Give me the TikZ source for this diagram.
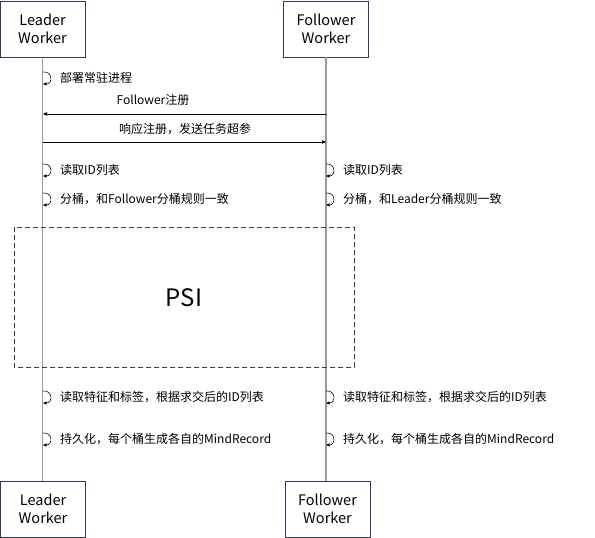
\documentclass[tikz,border=0pt]{standalone}
\usepackage{fontspec}
\setmainfont{Noto Sans CJK SC}
\usetikzlibrary{arrows.meta}
\begin{document}
\begin{tikzpicture}[x=1pt,y=-1pt,
  actor/.style={draw=boxc,line width=0.8pt,minimum width=85pt,minimum height=56pt,align=center,font=\fontsize{14.5}{18}\selectfont,inner sep=0pt},
  life/.style={draw=lifec,line width=1.4pt},
  msg/.style={draw=black,line width=0.6pt,-{Triangle[length=4pt,width=3.5pt]}},
  lbl/.style={font=\fontsize{12}{14}\selectfont,inner sep=0pt},
  selfloop/.style={draw=black,line width=0.6pt,-{Triangle[length=3.5pt,width=3pt]}}]
\definecolor{boxc}{HTML}{2F3A5A}
\definecolor{lifec}{HTML}{9A9A9A}
\useasboundingbox (0,0) rectangle (595,538);
% actors
\node[actor] (lt) at (42.5,29) {Leader\\Worker};
\node[actor] (ft) at (326,29) {Follower\\Worker};
\node[actor] (lb) at (43,509) {Leader\\Worker};
\node[actor] (fb) at (327.5,509) {Follower\\Worker};
% lifelines
\draw[life] (lt.south) -- (lt.south |- lb.north);
\draw[life] (ft.south) -- (ft.south |- fb.north);
% PSI box
\draw[draw=boxc,line width=0.8pt,dash pattern=on 5pt off 3pt] (14,227) rectangle (354,367);
\node[font=\fontsize{24}{28}\selectfont] (psi) at (184,298) {PSI};
% self loops
\foreach \lx/\ly/\name in {43/78/a,43/170/b,43/199/c,43/397/d,43/439/e,326/170/f,326/199/g,326/397/h,326/439/i}{
  \coordinate (s\name) at (\lx,\ly-6);
  \coordinate (e\name) at (\lx,\ly+6);
  \draw[selfloop] (s\name) .. controls (\lx+10,\ly-7) and (\lx+10,\ly+6) .. (e\name);
}
\node[lbl,anchor=west] (ta) at (60,78) {部署常驻进程};
\node[lbl,anchor=west] (tb) at (60,170) {读取ID列表};
\node[lbl,anchor=west] (tc) at (60,199) {分桶，和Follower分桶规则一致};
\node[lbl,anchor=west] (td) at (60,397) {读取特征和标签，根据求交后的ID列表};
\node[lbl,anchor=west] (te) at (60,439) {持久化，每个桶生成各自的MindRecord};
\node[lbl,anchor=west] (tf) at (343,170) {读取ID列表};
\node[lbl,anchor=west] (tg) at (343,199) {分桶，和Leader分桶规则一致};
\node[lbl,anchor=west] (th) at (343,397) {读取特征和标签，根据求交后的ID列表};
\node[lbl,anchor=west] (ti) at (343,439) {持久化，每个桶生成各自的MindRecord};
% messages
\coordinate (m1f) at (326,114);
\coordinate (m1l) at (43,114);
\coordinate (m2l) at (43,142);
\coordinate (m2f) at (326,142);
\draw[msg] (m1f) -- (m1l);
\draw[msg] (m2l) -- (m2f);
\node[lbl] (t1) at (153,100) {Follower注册};
\node[lbl] (t2) at (185,129) {响应注册，发送任务超参};
\end{tikzpicture}
\end{document}
